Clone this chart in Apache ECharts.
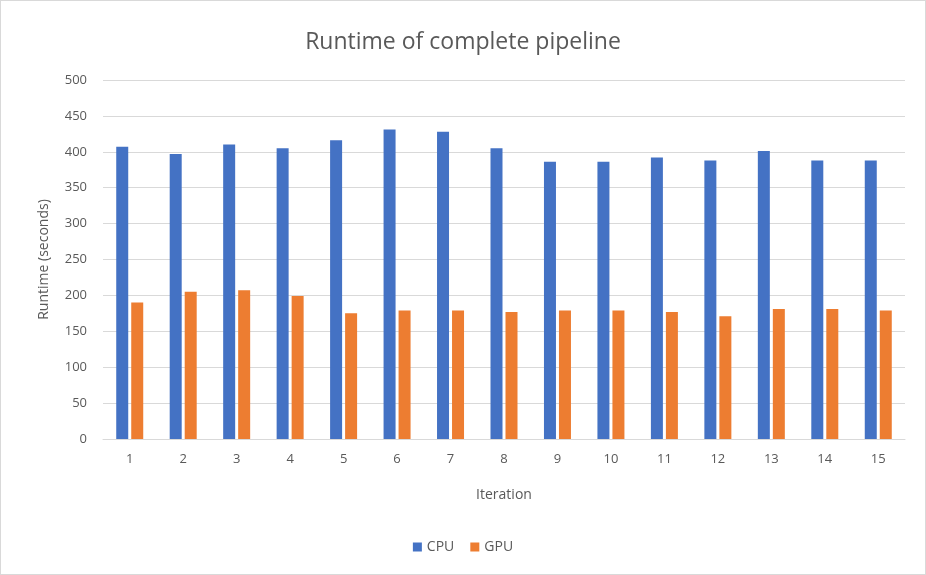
<!DOCTYPE html>
<html><head><meta charset="utf-8">
<script src="https://cdn.jsdelivr.net/npm/echarts@6/dist/echarts.min.js"></script>
<style>html,body{margin:0;padding:0;background:#fff}#c{width:924px;height:573px;border:1px solid #d9d9d9}</style>
</head><body><div id="c"></div>
<script>
const categories = ['1','2','3','4','5','6','7','8','9','10','11','12','13','14','15'];
const cpu = [407, 397, 410, 405, 416, 431, 428, 405, 386, 386, 392, 388, 401, 388, 388];
const gpu = [190, 205, 207, 199, 175, 179, 179, 177, 179, 179, 177, 171, 181, 181, 179];
const seriesNames = ['CPU', 'GPU'];
const yTicks = {min: 0, max: 500, interval: 50};
const font = '"Open Sans", "Liberation Sans", sans-serif';
const chart = echarts.init(document.getElementById('c'));
chart.setOption({
  animation: false,
  textStyle: {fontFamily: font},
  title: {text: 'Runtime of complete pipeline', left: 'center', top: 25,
    textStyle: {fontFamily: font, fontSize: 23, fontWeight: 'normal', color: '#595959'}},
  grid: {left: 102, right: 20, top: 79, bottom: 135},
  legend: {data: seriesNames, bottom: 15, left: 'center', itemWidth: 9, itemHeight: 9, itemGap: 16,
    icon: 'rect', textStyle: {fontFamily: font, fontSize: 14, color: '#595959'}},
  xAxis: {type: 'category', data: categories, name: 'Iteration', nameLocation: 'middle', nameGap: 49,
    nameTextStyle: {fontFamily: font, fontSize: 14, color: '#595959'},
    axisLine: {lineStyle: {color: '#d9d9d9'}}, axisTick: {show: false},
    axisLabel: {fontFamily: font, fontSize: 13, color: '#595959', margin: 14}},
  yAxis: {type: 'value', min: yTicks.min, max: yTicks.max, interval: yTicks.interval,
    name: 'Runtime (seconds)', nameLocation: 'middle', nameGap: 52,
    nameTextStyle: {fontFamily: font, fontSize: 14, color: '#595959'},
    splitLine: {lineStyle: {color: '#d9d9d9'}}, axisLine: {show: false}, axisTick: {show: false},
    axisLabel: {fontFamily: font, fontSize: 13, color: '#595959', margin: 16}},
  series: [
    {name: seriesNames[0], type: 'bar', data: cpu, barWidth: 12, barGap: '25%', itemStyle: {color: '#4472c4'}},
    {name: seriesNames[1], type: 'bar', data: gpu, barWidth: 12, itemStyle: {color: '#ed7d31'}}
  ]
});
</script></body></html>
